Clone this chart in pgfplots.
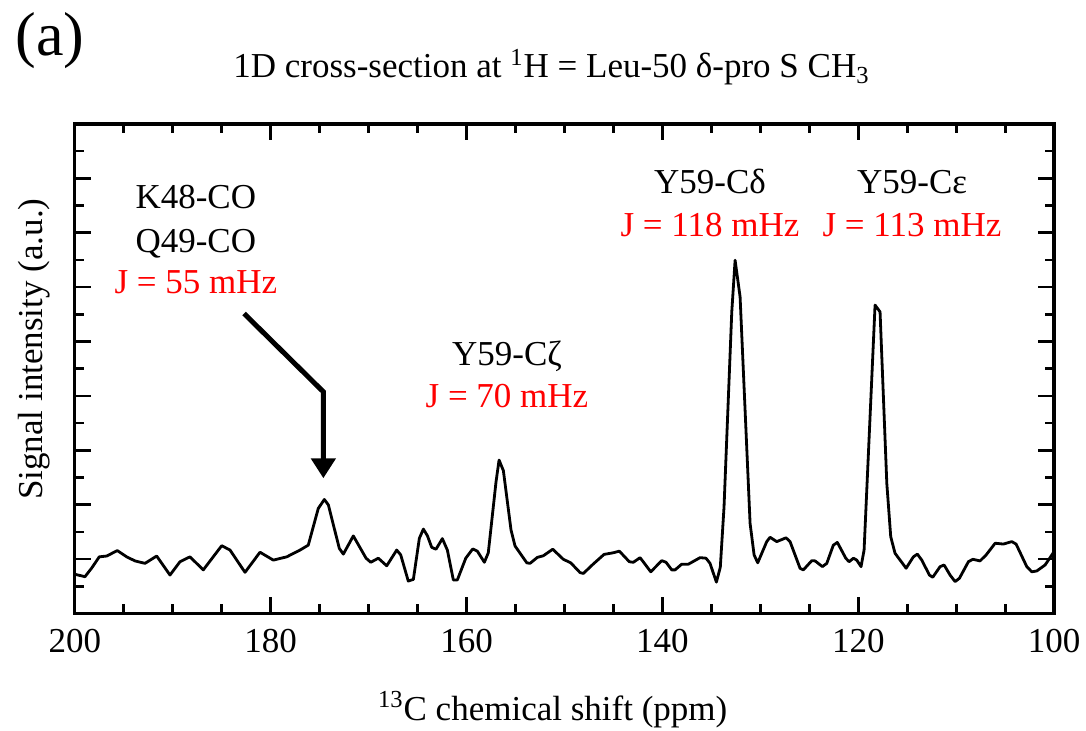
\documentclass[border=0pt]{standalone}
\usepackage{fontspec}
\setmainfont{Liberation Serif}
\usepackage{pgfplots}
\usepackage{pgfplotstable}
\pgfplotsset{compat=1.18}
\usetikzlibrary{arrows.meta}

\newcommand\fs{\fontsize{17.5}{21.5}\selectfont}

% 1D cross-section, 13C shift (ppm) vs intensity (a.u.)
\pgfplotstableread{
ppm y
200.00 1.44
198.96 1.35
198.27 1.67
197.50 2.08
196.74 2.11
195.66 2.31
194.70 2.08
193.85 1.93
192.83 1.84
191.64 2.11
190.28 1.41
189.26 1.90
188.24 2.08
186.88 1.60
185.00 2.49
184.15 2.33
182.62 1.51
181.09 2.25
179.73 1.96
178.36 2.08
177.00 2.33
176.16 2.51
175.14 3.86
174.52 4.19
174.11 3.99
172.99 2.39
172.58 2.18
171.56 2.85
170.26 2.03
169.78 1.88
169.01 2.03
168.15 1.75
167.13 2.33
166.72 2.15
165.95 1.19
165.43 1.25
164.82 2.76
164.41 3.10
164.00 2.86
163.56 2.43
163.12 2.36
162.47 2.75
161.96 2.33
161.35 1.23
160.94 1.23
160.08 2.03
159.37 2.37
158.90 2.29
158.18 1.88
157.78 2.23
156.99 4.84
156.68 5.64
156.24 5.25
155.46 3.07
155.05 2.48
153.85 1.86
153.52 1.84
152.77 2.06
152.16 2.12
151.20 2.36
150.12 1.99
149.36 1.86
148.41 1.50
148.07 1.47
147.05 1.82
145.96 2.17
145.01 2.23
144.40 2.29
143.38 1.90
142.97 1.88
142.28 2.05
141.19 1.53
140.07 1.94
139.63 1.88
139.05 1.60
138.71 1.60
138.03 1.81
137.35 1.81
136.16 2.05
135.55 2.03
135.14 1.84
134.49 1.15
134.09 1.70
133.71 3.92
132.92 11.09
132.58 12.99
132.07 11.64
131.05 3.31
130.64 2.15
130.27 1.86
129.35 2.64
129.01 2.80
128.33 2.64
127.38 2.78
126.97 2.64
125.95 1.66
125.61 1.60
124.75 1.94
124.41 1.93
123.67 1.72
123.22 1.84
122.55 2.51
122.14 2.61
121.28 2.03
120.94 1.90
120.50 2.03
120.16 1.96
119.72 1.72
119.41 2.33
118.29 11.34
117.78 11.09
117.09 4.78
116.69 2.82
116.25 2.21
115.73 1.96
115.12 1.66
114.38 2.08
113.97 2.18
113.52 1.96
112.74 1.41
112.40 1.33
111.65 1.72
111.24 1.78
110.63 1.41
110.12 1.17
109.68 1.29
108.76 1.90
108.31 1.99
107.57 1.93
106.95 2.15
106.03 2.58
105.19 2.55
104.33 2.64
103.89 2.55
102.80 1.72
102.29 1.53
101.78 1.56
100.93 1.78
100.24 2.15
100.00 2.28
}\spectrum

\begin{document}
\fs
\begin{tikzpicture}
\useasboundingbox (-37.4pt,-58.8pt) rectangle (505.6pt,306.7pt);
\begin{axis}[
    at={(0,0)}, anchor=south west,
    scale only axis,
    width=489.7pt, height=244.7pt,
    xmin=100, xmax=200, x dir=reverse,
    ymin=0, ymax=18,
    xtick={100,120,...,200},
    minor xtick={105,110,...,195},
    ytick={2,4,...,16},
    minor ytick={1,3,...,17},
    yticklabels={},
    tick align=inside,
    major tick length=8pt,
    minor tick length=4.5pt,
    every tick/.style={black, line width=1.3pt},
    axis line style={line width=1.7pt},
    /pgf/number format/assume math mode=true,
    tick label style={font=\fs},
    xticklabel style={yshift=-2pt},
    label style={font=\fs},
    xlabel={\textsuperscript{13}C chemical shift (ppm)},
    xlabel style={at={(axis description cs:0.488,-0.218)}, anchor=base},
    ylabel={Signal intensity (a.u.)},
    ylabel style={at={(axis description cs:-0.0328,0.540)}, anchor=base, rotate=0},
]
\addplot[black, line width=1.4pt, line join=round, mark=none] table[x=ppm, y=y] {\spectrum};

\draw[line width=2.5pt, -{Triangle[length=10pt,width=12pt]}]
    (axis cs:182.72,11.03) -- (axis cs:174.62,8.15) -- (axis cs:174.62,4.97);

\node[anchor=base, inner sep=0pt, font=\fs] at (axis cs:187.64,14.88) {K48-CO};
\node[anchor=base, inner sep=0pt, font=\fs] at (axis cs:187.64,13.29) {Q49-CO};
\node[anchor=base, inner sep=0pt, font=\fs, red] at (axis cs:187.64,11.76) {J = 55 mHz};

\node[anchor=base, inner sep=0pt, font=\fs] at (axis cs:155.87,9.13) {Y59-Cζ};
\node[anchor=base, inner sep=0pt, font=\fs, red] at (axis cs:155.87,7.59) {J = 70 mHz};

\node[anchor=base, inner sep=0pt, font=\fs] at (axis cs:135.14,15.43) {Y59-Cδ};
\node[anchor=base, inner sep=0pt, font=\fs, red] at (axis cs:135.14,13.88) {J = 118 mHz};

\node[anchor=base, inner sep=0pt, font=\fs] at (axis cs:114.51,15.43) {Y59-Cε};
\node[anchor=base, inner sep=0pt, font=\fs, red] at (axis cs:114.51,13.88) {J = 113 mHz};
\end{axis}

\node[anchor=base, inner sep=0pt, font=\fs] at (238.35pt,267.7pt)
    {1D cross-section at \textsuperscript{1}H = Leu-50 δ-pro S CH\textsubscript{3}};
\node[anchor=base west, inner sep=0pt, font=\fontsize{31}{36}\selectfont] at (-29.9pt,278.7pt) {(a)};
\end{tikzpicture}
\end{document}
